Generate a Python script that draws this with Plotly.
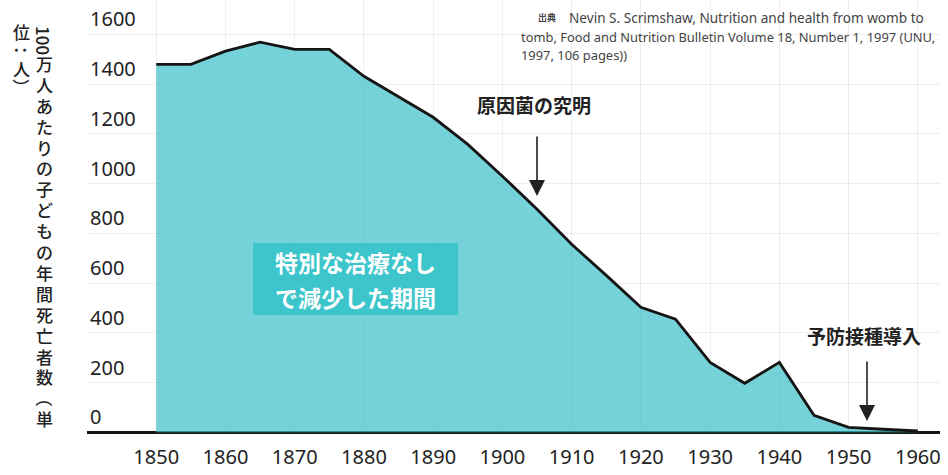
import plotly.graph_objects as go

# ---- data ----
years = [1850, 1855, 1860, 1865, 1870, 1875, 1880, 1885, 1890, 1895,
         1900, 1905, 1910, 1915, 1920, 1925, 1930, 1935, 1940, 1945,
         1950, 1955, 1960]
deaths = [1480, 1480, 1533, 1569, 1540, 1540, 1432, 1348, 1267, 1158,
          1030, 897, 756, 631, 503, 455, 281, 197, 281, 68,
          20, 12, 5]
x_ticks = list(range(1850, 1961, 10))
y_ticks = list(range(0, 1601, 200))

W, H = 948, 475
L, R, T, B = 87, 8, 0, 42
PW, PH = W - L - R, H - T - B
SCALE = 0.2486  # px per unit
Y0 = -3


def px(x):
    return (x - L) / PW


def py(y):
    return (H - B - y) / PH


JP = "Noto Sans CJK JP"
fig = go.Figure()
fig.add_trace(go.Scatter(
    x=years, y=deaths, mode="lines", fill="tozeroy",
    line=dict(color="#151515", width=2.8),
    fillcolor="rgba(58,191,199,0.70)", hoverinfo="skip", showlegend=False))

annots = []
# y title (vertical writing, one character per cell)
ROT = set("（）：")


def vcol(chars, xc, ytop, step, size):
    for i, ch in enumerate(chars):
        annots.append(dict(text=ch, x=px(xc), y=py(ytop + step * i + step / 2),
                           xref="paper", yref="paper", showarrow=False,
                           textangle=90 if ch in ROT else 0,
                           xanchor="center", yanchor="middle",
                           font=dict(family=JP, size=size, color="#222", weight=500)))


annots.append(dict(text="100", x=px(44), y=py(40), xref="paper", yref="paper",
                   textangle=90, showarrow=False, xanchor="center", yanchor="middle",
                   font=dict(family=JP, size=17, color="#222", weight=500)))
vcol("万人あたりの子どもの年間死亡者数（単", 44, 53, 20.9, 17)
vcol("位：人）", 21, 22, 18.5, 17)

# source
annots.append(dict(text="<b>出典</b>", x=px(536), y=py(18), xref="paper", yref="paper",
                   showarrow=False, xanchor="left", yanchor="middle",
                   font=dict(family=JP, size=9, color="#444")))
annots.append(dict(text="Nevin S. Scrimshaw, Nutrition and health from womb to",
                   x=px(567), y=py(18), xref="paper", yref="paper",
                   showarrow=False, xanchor="left", yanchor="middle",
                   font=dict(family="Noto Sans", size=13.6, color="#444")))
annots.append(dict(text="tomb, Food and Nutrition Bulletin Volume 18, Number 1, 1997 (UNU,",
                   x=px(519), y=py(37), xref="paper", yref="paper",
                   showarrow=False, xanchor="left", yanchor="middle",
                   font=dict(family="Noto Sans", size=12.9, color="#444")))
annots.append(dict(text="1997, 106 pages))",
                   x=px(519), y=py(55), xref="paper", yref="paper",
                   showarrow=False, xanchor="left", yanchor="middle",
                   font=dict(family="Noto Sans", size=12.9, color="#444")))

# labels with arrows
annots.append(dict(text="<b>原因菌の究明</b>", x=px(534), y=py(104), xref="paper", yref="paper",
                   showarrow=False, xanchor="center", yanchor="middle",
                   font=dict(family=JP, size=19, color="#222")))
annots.append(dict(text="", x=px(537), y=py(196), xref="paper", yref="paper",
                   showarrow=True, ax=0, ay=-61, arrowhead=2, arrowsize=2.0,
                   arrowwidth=1.6, arrowcolor="#222"))
annots.append(dict(text="<b>予防接種導入</b>", x=px(864), y=py(335), xref="paper", yref="paper",
                   showarrow=False, xanchor="center", yanchor="middle",
                   font=dict(family=JP, size=19, color="#222")))
annots.append(dict(text="", x=px(867), y=py(421), xref="paper", yref="paper",
                   showarrow=True, ax=0, ay=-61, arrowhead=2, arrowsize=2.0,
                   arrowwidth=1.6, arrowcolor="#222"))

# boxed text
annots.append(dict(text="<b>特別な治療なし</b>", x=px(355), y=py(262), xref="paper", yref="paper",
                   showarrow=False, xanchor="center", yanchor="middle",
                   font=dict(family=JP, size=23, color="white")))
annots.append(dict(text="<b>で減少した期間</b>", x=px(355), y=py(297), xref="paper", yref="paper",
                   showarrow=False, xanchor="center", yanchor="middle",
                   font=dict(family=JP, size=23, color="white")))

shapes = [dict(type="rect", xref="paper", yref="paper",
               x0=px(253), x1=px(458), y0=py(315), y1=py(243),
               fillcolor="#3cc5cb", line=dict(width=0), layer="above")]

fig.update_layout(
    width=W, height=H, margin=dict(l=L, r=R, t=T, b=B, autoexpand=False),
    plot_bgcolor="white", paper_bgcolor="white",
    annotations=annots, shapes=shapes,
    xaxis=dict(range=[1840.0, 1963.2], tickvals=x_ticks, ticktext=[str(v) for v in x_ticks],
               showgrid=True, gridcolor="rgba(0,0,0,0.065)", gridwidth=1,
               showline=False,
               ticks="", ticklabelstandoff=10, zeroline=False, automargin=False,
               tickfont=dict(family="Noto Sans", size=20, color="#222")),
    yaxis=dict(range=[Y0, Y0 + (H - B - T) / SCALE], tickvals=y_ticks,
               ticktext=[str(v) for v in y_ticks],
               showgrid=True, gridcolor="rgba(0,0,0,0.065)", gridwidth=1,
               zeroline=True, zerolinecolor="#151515", zerolinewidth=2.6,
               showline=False, ticks="", automargin=False,
               ticklabelposition="inside top", ticklabelshift=-1,
               tickfont=dict(family="Noto Sans", size=20, color="#222")),
)

fig.write_html("out.html", config={"displayModeBar": False},
               post_script="document.body.style.margin='0';document.body.style.overflow='hidden';")
